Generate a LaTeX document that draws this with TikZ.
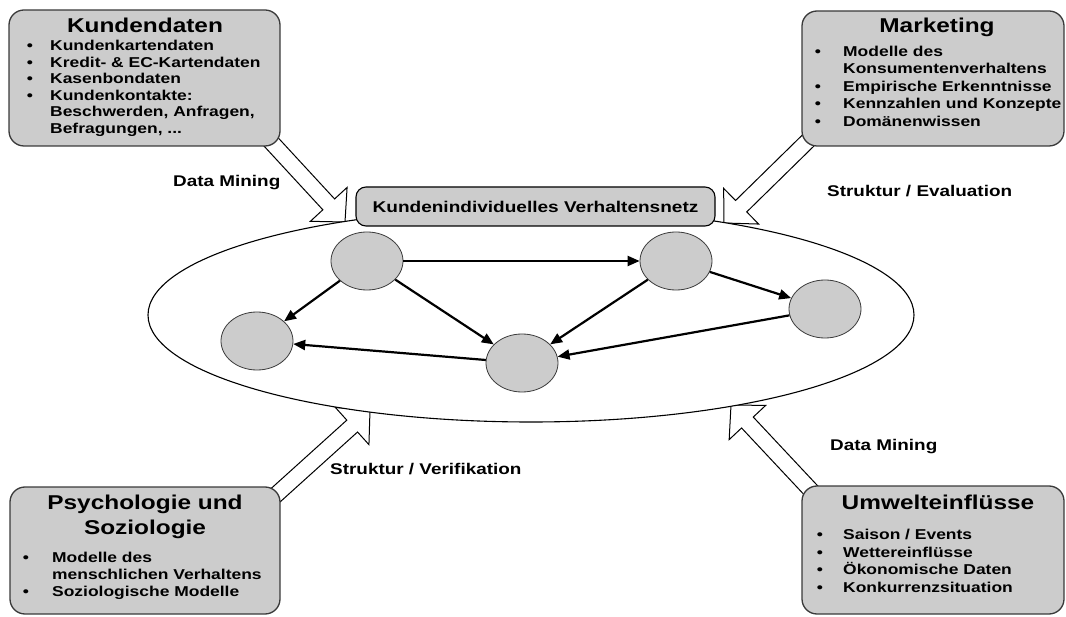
\documentclass[tikz,border=0pt]{standalone}
\usepackage{fontspec}
\setmainfont{Liberation Sans}
\newfontfamily\hv[FakeStretch=1.22]{Liberation Sans}
\usetikzlibrary{calc,shapes.geometric,arrows.meta}
\definecolor{boxgray}{HTML}{CCCCCC}
\definecolor{edgegray}{HTML}{3A3A3A}
\tikzset{
 bigbox/.style={draw=edgegray, line width=1.3pt, fill=boxgray, rounded corners=15pt, inner sep=0pt},
 titletxt/.style={anchor=base, inner sep=0pt, font=\hv\bfseries\fontsize{20}{24}\selectfont},
 itemtxt/.style={anchor=base west, inner sep=0pt, font=\hv\bfseries\fontsize{14.3}{17}\selectfont},
 bdot/.style={anchor=base, inner sep=0pt, font=\hv\bfseries\fontsize{14.3}{17}\selectfont},
 lbl/.style={anchor=base west, inner sep=0pt, font=\hv\bfseries\fontsize{15.5}{18}\selectfont},
 netbox/.style={draw=black, line width=1.1pt, fill=boxgray, rounded corners=10pt, minimum width=359pt, minimum height=39pt, inner sep=0pt, font=\hv\bfseries\fontsize{15.6}{18}\selectfont},
 circnode/.style={ellipse, draw=edgegray, line width=0.8pt, fill=boxgray, minimum width=72pt, minimum height=58pt, inner sep=0pt},
 flow/.style={line width=2.2pt, -{Triangle[length=12pt,width=10pt]}},
 blk/.style={draw=black, line width=1pt, fill=white, line join=miter},
}
\newcommand\blockarrow[3]{%
 \coordinate (#3h) at ($(#2)!24pt!(#1)$);
 \filldraw[blk] ($(#1)!8pt!90:(#2)$) -- ($(#3h)!8pt!90:(#2)$) -- ($(#3h)!25pt!90:(#2)$) -- (#2) -- ($(#3h)!25pt!-90:(#2)$) -- ($(#3h)!8pt!-90:(#2)$) -- ($(#1)!8pt!-90:(#2)$) -- cycle;}
\begin{document}
\begin{tikzpicture}[x=1pt,y=-1pt]
\useasboundingbox (0,0) rectangle (1066,617);
% block arrows
\coordinate (tlA) at (249,118); \coordinate (tlB) at (345,222);
\coordinate (trA) at (825,124); \coordinate (trB) at (724,223);
\coordinate (blA) at (257,512); \coordinate (blB) at (370,410);
\coordinate (brA) at (835,516); \coordinate (brB) at (731,405);
\blockarrow{tlA}{tlB}{tl}
\blockarrow{trA}{trB}{tr}
\blockarrow{blA}{blB}{bl}
\blockarrow{brA}{brB}{br}
% network ellipse
\node[ellipse, draw=black, line width=1.1pt, fill=white, minimum width=766pt, minimum height=214pt, inner sep=0pt] (net) at (531,315) {};
\node[netbox] (kv) at (535.5,206.5) {Kundenindividuelles Verhaltensnetz};
% states
\node[circnode] (n1) at (367,261) {};
\node[circnode] (n2) at (676,261) {};
\node[circnode] (n3) at (825,309) {};
\node[circnode] (n4) at (257,341) {};
\node[circnode] (n5) at (522,363) {};
\draw[flow] (n1) -- (n2);
\draw[flow] (n1) -- (n4);
\draw[flow] (n1) -- (n5);
\draw[flow] (n2) -- (n5);
\draw[flow] (n2) -- (n3);
\draw[flow] (n3) -- (n5);
\draw[flow] (n5) -- (n4);
% boxes
\node[bigbox, minimum width=271pt, minimum height=136pt] (kd) at (144.5,78) {};
\node[bigbox, minimum width=262pt, minimum height=135pt] (mk) at (933,78.5) {};
\node[bigbox, minimum width=270pt, minimum height=127pt] (ps) at (145,550.5) {};
\node[bigbox, minimum width=262pt, minimum height=128pt] (um) at (933,550) {};
% Kundendaten
\node[titletxt] (kdT) at (145,33) {Kundendaten};
\node[bdot] (kdb1) at (30,51) {•}; \node[itemtxt] (kd1) at (50,51) {Kundenkartendaten};
\node[bdot] (kdb2) at (30,68) {•}; \node[itemtxt] (kd2) at (50,68) {Kredit- \& EC-Kartendaten};
\node[bdot] (kdb3) at (30,84) {•}; \node[itemtxt] (kd3) at (50,84) {Kasenbondaten};
\node[bdot] (kdb4) at (30,101) {•}; \node[itemtxt] (kd4) at (50,101) {Kundenkontakte:};
\node[itemtxt] (kd5) at (50,117) {Beschwerden, Anfragen,};
\node[itemtxt] (kd6) at (50,134) {Befragungen, ...};
% Marketing
\node[titletxt] (mkT) at (937,33) {Marketing};
\node[bdot] (mkb1) at (818,57) {•}; \node[itemtxt] (mk1) at (843,57) {Modelle des};
\node[itemtxt] (mk2) at (843,74) {Konsumentenverhaltens};
\node[bdot] (mkb3) at (818,92) {•}; \node[itemtxt] (mk3) at (843,92) {Empirische Erkenntnisse};
\node[bdot] (mkb4) at (818,109) {•}; \node[itemtxt] (mk4) at (843,109) {Kennzahlen und Konzepte};
\node[bdot] (mkb5) at (818,127) {•}; \node[itemtxt] (mk5) at (843,127) {Domänenwissen};
% Psychologie
\node[titletxt] (psT1) at (145,509) {Psychologie und};
\node[titletxt] (psT2) at (145,534) {Soziologie};
\node[bdot] (psb1) at (26,562) {•}; \node[itemtxt] (ps1) at (52,562) {Modelle des};
\node[itemtxt] (ps2) at (52,579) {menschlichen Verhaltens};
\node[bdot] (psb3) at (26,596) {•}; \node[itemtxt] (ps3) at (52,596) {Soziologische Modelle};
% Umwelt
\node[titletxt] (umT) at (938,509) {Umwelteinflüsse};
\node[bdot] (umb1) at (820,539) {•}; \node[itemtxt] (um1) at (843,539) {Saison / Events};
\node[bdot] (umb2) at (820,557) {•}; \node[itemtxt] (um2) at (843,557) {Wettereinflüsse};
\node[bdot] (umb3) at (820,574) {•}; \node[itemtxt] (um3) at (843,574) {Ökonomische Daten};
\node[bdot] (umb4) at (820,592) {•}; \node[itemtxt] (um4) at (843,592) {Konkurrenzsituation};
% labels
\node[lbl] (dm1) at (173,187) {Data Mining};
\node[lbl] (se) at (827,197) {Struktur / Evaluation};
\node[lbl] (sv) at (330,475) {Struktur / Verifikation};
\node[lbl] (dm2) at (830,450) {Data Mining};
\end{tikzpicture}
\end{document}
